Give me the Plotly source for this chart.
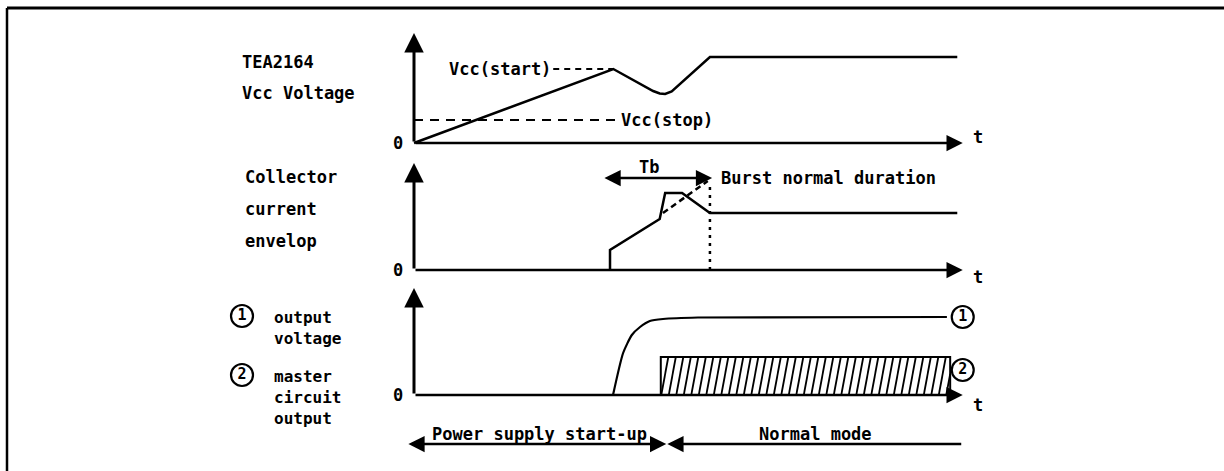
import numpy as np
import plotly.graph_objects as go

W, H = 1224, 471
FONT = "DejaVu Sans Mono"

# ---------------- data (time in arbitrary units, values in arbitrary units) ----------
# Panel 1: TEA2164 Vcc voltage
vcc_t = [0.0, 3.65, 4.38, 4.50, 4.60, 4.72, 5.42, 9.95]
vcc_v = [0.0, 7.4, 5.2, 4.95, 4.9, 5.15, 8.6, 8.6]
vcc_start_level = 7.4
vcc_start_t = [2.55, 3.65]
vcc_stop_level = 2.3
vcc_stop_t = [0.0, 3.70]

# Panel 2: collector current envelope
ic_t = [3.59, 3.59, 4.50, 4.60, 4.91, 5.42, 9.95]
ic_v = [0.0, 2.0, 5.1, 7.7, 7.7, 5.7, 5.7]
ic_dash_t = [4.56, 5.38]
ic_dash_v = [5.7, 8.9]
tb_t = [3.46, 5.46]
tb_level = 9.2
burst_t = 5.42

# Panel 3: output voltage (1) and master circuit output (2)
out1_t = [3.645, 3.83, 3.99, 4.14, 4.32, 4.56, 5.2, 9.76]
out1_v = [0.0, 4.2, 6.0, 6.8, 7.4, 7.6, 7.75, 7.8]
master_t = [4.52, 9.82]
master_level = 3.8

# Phase arrows
startup_t = [-0.13, 4.62]
normal_t = [4.62, 10.05]

T_AXIS_END = 10.05

# ---------------- layout helpers ----------------
PX_PER_T = 54.6
X0_PX = 414
PX_PER_V = 10.0
# (baseline pixel, top pixel, bottom pixel) of each panel
panels = [(143, 0, 158), (270, 158, 285), (395, 285, 471)]


def dom(top_px, bot_px):
    return [1 - bot_px / H, 1 - top_px / H]


def rng(base, top_px, bot_px):
    return [-(bot_px - base) / PX_PER_V, (base - top_px) / PX_PER_V]


fig = go.Figure()

# Panel 1 traces
fig.add_trace(go.Scatter(x=vcc_t, y=vcc_v, mode="lines",
                         line=dict(color="black", width=2.5),
                         xaxis="x", yaxis="y"))
fig.add_trace(go.Scatter(x=vcc_start_t, y=[vcc_start_level] * 2, mode="lines",
                         line=dict(color="black", width=2, dash="6px,5px"), xaxis="x", yaxis="y"))
fig.add_trace(go.Scatter(x=vcc_stop_t, y=[vcc_stop_level] * 2, mode="lines",
                         line=dict(color="black", width=2, dash="9px,7px"), xaxis="x", yaxis="y"))

# Panel 2 traces
fig.add_trace(go.Scatter(x=ic_t, y=ic_v, mode="lines", line=dict(color="black", width=2.5),
                         xaxis="x", yaxis="y2"))
fig.add_trace(go.Scatter(x=ic_dash_t, y=ic_dash_v, mode="lines",
                         line=dict(color="black", width=2.5, dash="6px,4px"), xaxis="x", yaxis="y2"))
fig.add_trace(go.Scatter(x=[burst_t, burst_t], y=[0, 8.7], mode="lines",
                         line=dict(color="black", width=2.5, dash="3px,5px"), xaxis="x", yaxis="y2"))

# Panel 3 traces
fig.add_trace(go.Scatter(x=out1_t, y=out1_v, mode="lines",
                         line=dict(color="black", width=2.2, shape="spline", smoothing=0.6),
                         xaxis="x", yaxis="y3"))
mx = [master_t[0], master_t[1], master_t[1], master_t[0], master_t[0]]
my = [0, 0, master_level, master_level, 0]
fig.add_trace(go.Scatter(x=mx, y=my, mode="lines", line=dict(color="black", width=2),
                         xaxis="x", yaxis="y3"))
# hatch (style): steep strokes clipped to the rectangle
sp = 7.5 / PX_PER_T
slant = 7.0 / PX_PER_T
hx, hy = [], []
for x0 in np.arange(master_t[0] - slant, master_t[1], sp):
    xa, ya = x0, 0.0
    xb, yb = x0 + slant, master_level
    if xa < master_t[0]:
        ya = (master_t[0] - xa) / slant * master_level
        xa = master_t[0]
    if xb > master_t[1]:
        yb = (master_t[1] - x0) / slant * master_level
        xb = master_t[1]
    hx += [xa, xb, None]
    hy += [ya, yb, None]
fig.add_trace(go.Scatter(x=hx, y=hy, mode="lines", line=dict(color="black", width=1.8),
                         xaxis="x", yaxis="y3"))


# circled numbers
def circ(x, y, txt, yaxis):
    fig.add_trace(go.Scatter(x=[x], y=[y], mode="markers+text", text=[txt], textposition="middle center",
                             textfont=dict(family=FONT, size=15, color="black", weight="bold"),
                             marker=dict(symbol="circle-open", size=22, color="black", line=dict(width=2.2)),
                             xaxis="x", yaxis=yaxis))


circ(10.05, 7.8, "1", "y3")
circ(10.05, 2.5, "2", "y3")
circ(-3.15, 7.9, "1", "y3")
circ(-3.15, 2.0, "2", "y3")

ann = []


def arrow(x, y, ax, ay, yref, width=2.5, head=2, size=1.3, both=False):
    d = dict(x=x, y=y, ax=ax, ay=ay, xref="x", yref=yref, axref="x", ayref=yref, text="",
             showarrow=True, arrowhead=head, arrowsize=size, arrowwidth=width, arrowcolor="black",
             standoff=0, startstandoff=0, arrowside="end")
    if both:
        d.update(arrowside="end+start", startarrowhead=head, startarrowsize=size)
    ann.append(d)


def txt(x, y, s, yref, xanchor="left", size=17, yanchor="middle"):
    ann.append(dict(x=x, y=y, xref="x", yref=yref, text=s, showarrow=False, xanchor=xanchor,
                    yanchor=yanchor, align="left",
                    font=dict(family=FONT, size=size, color="black", weight="bold")))


# axes as arrows
tips = [11.0, 10.7, 10.7]
for i, yr in enumerate(["y", "y2", "y3"]):
    arrow(0, tips[i], 0, 0, yr, width=3)
    arrow(T_AXIS_END, 0, 0, 0, yr, width=2.5)
    txt(-0.16, 0, "0", yr, xanchor="right")

txt(10.2, 0.6, "t", "y")
txt(10.2, -0.7, "t", "y2")
txt(10.2, -1.0, "t", "y3")

# panel 1 labels
txt(-3.19, 8.1, "TEA2164", "y")
txt(-3.19, 5.0, "Vcc Voltage", "y")
txt(2.55, 7.4, "Vcc(start)", "y", xanchor="right")
txt(3.76, 2.3, "Vcc(stop)", "y")

# panel 2 labels
txt(-3.13, 9.3, "Collector", "y2")
txt(-3.13, 6.1, "current", "y2")
txt(-3.13, 2.9, "envelop", "y2")
arrow(tb_t[1], tb_level, tb_t[0], tb_level, "y2", width=2.5, both=True)
txt(4.3, 10.3, "Tb", "y2", xanchor="center")
txt(5.58, 9.2, "Burst normal duration", "y2")

# panel 3 labels
txt(-2.6, 8.9, "output<br>voltage", "y3", size=16, yanchor="top")
txt(-2.6, 3.0, "master<br>circuit<br>output", "y3", size=16, yanchor="top")

# phase arrows
arrow(startup_t[1], -4.9, startup_t[0], -4.9, "y3", width=2.5, both=True)
arrow(normal_t[0] + 0.02, -4.9, normal_t[1], -4.9, "y3", width=2.5)
txt(0.3, -3.9, "Power supply start-up", "y3")
txt(7.35, -3.9, "Normal mode", "y3", xanchor="center")

xr = [-X0_PX / PX_PER_T, (W - X0_PX) / PX_PER_T]
ax_common = dict(showgrid=False, zeroline=False, showticklabels=False, showline=False, ticks="", fixedrange=True)

fig.update_layout(
    width=W, height=H, margin=dict(l=0, r=0, t=0, b=0),
    paper_bgcolor="white", plot_bgcolor="white", showlegend=False,
    xaxis=dict(range=xr, domain=[0, 1], anchor="y3", **ax_common),
    yaxis=dict(range=rng(*panels[0]), domain=dom(panels[0][1], panels[0][2]), anchor="x", **ax_common),
    yaxis2=dict(range=rng(*panels[1]), domain=dom(panels[1][1], panels[1][2]), anchor="x", **ax_common),
    yaxis3=dict(range=rng(*panels[2]), domain=dom(panels[2][1], panels[2][2]), anchor="x", **ax_common),
    annotations=ann,
    shapes=[
        dict(type="line", xref="paper", yref="paper", x0=7 / W, x1=1, y0=1 - 8 / H, y1=1 - 8 / H,
             line=dict(color="black", width=3)),
        dict(type="line", xref="paper", yref="paper", x0=7 / W, x1=7 / W, y0=0, y1=1 - 8 / H,
             line=dict(color="black", width=2.5)),
    ],
)

fig.write_html("out.html", config={"displayModeBar": False},
               post_script="document.body.style.margin='0';document.body.style.overflow='hidden';")
